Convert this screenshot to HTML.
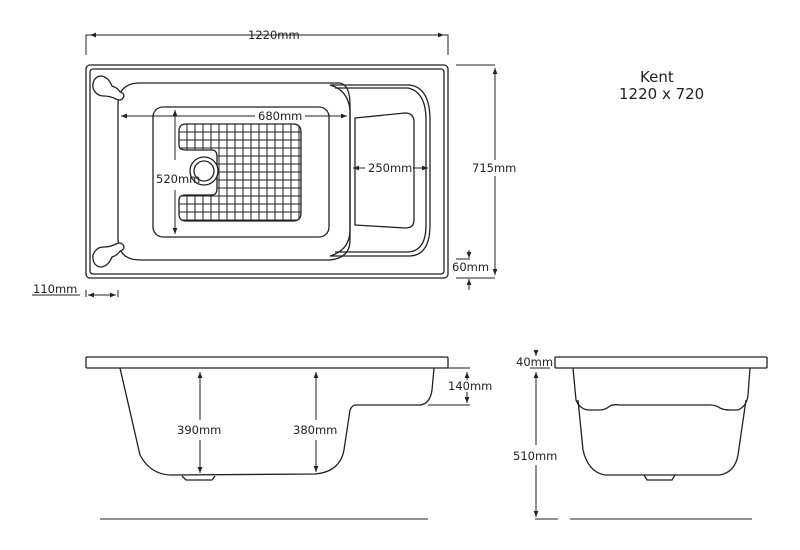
<!DOCTYPE html>
<html><head><style>body{margin:0;background:#fff}svg{display:block}text{font-family:"DejaVu Sans","Liberation Sans",sans-serif;font-size:11.5px;fill:#222}</style></head>
<body>
<svg width="800" height="550" viewBox="0 0 800 550" xmlns="http://www.w3.org/2000/svg">
<defs>
<marker id="a" viewBox="0 0 10 10" refX="10" refY="5" markerWidth="6" markerHeight="6" orient="auto-start-reverse"><path d="M0,1L10,5L0,9z" fill="#222"/></marker>
<clipPath id="g"><path d="M186,124H293Q301,124 301,132V213Q301,221 293,221H186Q179,221 179,214V200Q179,195 186,195H212Q217,195 217,188V157Q217,150 212,150H186Q179,150 179,145V131Q179,124 186,124Z"/></clipPath>
</defs>
<g fill="none" stroke="#222" stroke-width="1.3">
<rect x="86" y="65" width="362" height="213" rx="4"/>
<rect x="90" y="69" width="354" height="205" rx="3"/>
<path d="M140,83H340Q350,85 350,105V240Q350,258 330,260H140Q118,260 118,238V105Q118,83 140,83Z"/>
<path d="M330,85H410Q430,88 430,120V225Q430,255 410,256H330Q350,250 350,230V110Q348,90 330,85Z"/>
<path d="M335,88H408Q426,92 426,120V225Q426,251 408,252H335"/>
<rect x="153" y="107" width="176" height="130" rx="10"/>
<path d="M355,118L405,113Q414,113 414,122V220Q414,228 405,228L355,225Z"/>
<path d="M186,124H293Q301,124 301,132V213Q301,221 293,221H186Q179,221 179,214V200Q179,195 186,195H212Q217,195 217,188V157Q217,150 212,150H186Q179,150 179,145V131Q179,124 186,124Z"/>
<g clip-path="url(#g)" stroke-width="1">
<path d="M187,120V225M195,120V225M203,120V225M211,120V225M219,120V225M227,120V225M235,120V225M243,120V225M251,120V225M259,120V225M267,120V225M275,120V225M283,120V225M291,120V225M299,120V225M175,132H305M175,140H305M175,148H305M175,156H305M175,164H305M175,172H305M175,180H305M175,188H305M175,196H305M175,204H305M175,212H305M175,220H305"/>
</g>
<circle cx="204" cy="171" r="14" fill="#fff"/>
<circle cx="204" cy="171" r="10"/>
<path d="M120,92Q118,88 112,86Q108,76 100,76Q92,78 93,88Q96,96 104,96Q110,96 116,99Q122,102 124,96Q124,93 120,92Z" fill="#fff"/>
<path d="M120,251Q118,255 112,257Q108,267 100,267Q92,265 93,255Q96,247 104,247Q110,247 116,244Q122,241 124,247Q124,250 120,251Z" fill="#fff"/>
<path d="M86,55V35H448V55" stroke-width="1"/>
<path d="M456,65H495M456,278H495M456,259H470" stroke-width="1"/>
</g>
<g stroke="#222" stroke-width="1" fill="none">
<line x1="90" y1="35" x2="245" y2="35" marker-start="url(#a)"/>
<line x1="302" y1="35" x2="444" y2="35" marker-end="url(#a)"/>
<line x1="495" y1="68" x2="495" y2="160" marker-start="url(#a)"/>
<line x1="495" y1="176" x2="495" y2="275" marker-end="url(#a)"/>
<line x1="469" y1="250" x2="469" y2="258" marker-end="url(#a)"/>
<line x1="469" y1="290" x2="469" y2="279" marker-end="url(#a)"/>
<line x1="121" y1="116" x2="255" y2="116" marker-start="url(#a)"/>
<line x1="305" y1="116" x2="347" y2="116" marker-end="url(#a)"/>
<line x1="175" y1="110" x2="175" y2="160" marker-start="url(#a)"/>
<line x1="175" y1="190" x2="175" y2="234" marker-end="url(#a)"/>
<line x1="353" y1="168" x2="365" y2="168" marker-start="url(#a)"/>
<line x1="413" y1="168" x2="428" y2="168" marker-end="url(#a)"/>
<path d="M32,295H80M86,290V297M118,290V297"/>
<line x1="88" y1="295" x2="116" y2="295" marker-start="url(#a)" marker-end="url(#a)"/>
</g>
<text x="248" y="39">1220mm</text>
<text x="472" y="172">715mm</text>
<text x="452" y="271">60mm</text>
<text x="33" y="293">110mm</text>
<text x="258" y="120">680mm</text>
<text x="156" y="183">520mm</text>
<text x="368" y="172">250mm</text>
<text x="640" y="82" style="font-size:15px">Kent</text>
<text x="619" y="99" style="font-size:15px">1220 x 720</text>
<g fill="none" stroke="#222" stroke-width="1.3">
<rect x="86" y="357" width="362" height="11" rx="1"/>
<path d="M120,368L140,455Q150,474 170,475L315,474Q340,472 344,450L350,410Q352,405 356,405H420Q430,404 432,390L434,368"/>
<path d="M182,476L186,480H212L215,476"/>
<rect x="555" y="357" width="212" height="11" rx="1"/>
<path d="M573,368L576,400Q580,410 590,410H600Q605,410 610,406Q613,404 620,405H710Q716,405 720,408Q724,410 730,410H738Q747,406 748,395L750,368"/>
<path d="M578,400L583,450Q588,472 605,475H720Q735,472 738,455L746,400"/>
<path d="M644,475L647,480H672L675,475"/>
</g>
<g stroke="#222" stroke-width="1" fill="none">
<path d="M100,519H428M570,519H752M535,519H558M428,405H470M446,368H470M530,368H550"/>
<line x1="200" y1="372" x2="200" y2="420" marker-start="url(#a)"/>
<line x1="200" y1="440" x2="200" y2="473" marker-end="url(#a)"/>
<line x1="316" y1="372" x2="316" y2="420" marker-start="url(#a)"/>
<line x1="316" y1="440" x2="316" y2="472" marker-end="url(#a)"/>
<line x1="467" y1="372" x2="467" y2="380" marker-start="url(#a)"/>
<line x1="467" y1="392" x2="467" y2="403" marker-end="url(#a)"/>
<line x1="536" y1="372" x2="536" y2="445" marker-start="url(#a)"/>
<line x1="536" y1="465" x2="536" y2="517" marker-end="url(#a)"/>
<line x1="536" y1="350" x2="536" y2="356" marker-end="url(#a)"/>
</g>
<rect x="178" y="423" width="46" height="14" fill="#fff"/>
<rect x="294" y="423" width="46" height="14" fill="#fff"/>
<text x="177" y="434">390mm</text>
<text x="293" y="434">380mm</text>
<text x="448" y="390">140mm</text>
<text x="516" y="366">40mm</text>
<text x="513" y="460">510mm</text>
</svg>
</body></html>
